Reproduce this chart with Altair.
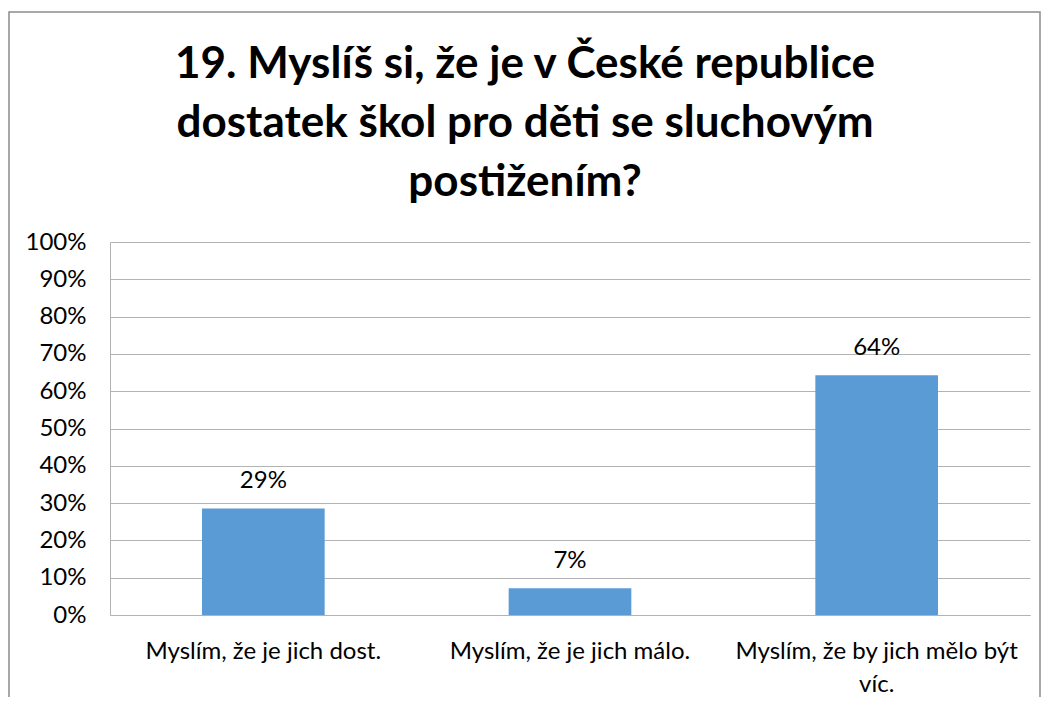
import altair as alt
import pandas as pd

categories = ["Myslím, že je jich dost.", "Myslím, že je jich málo.", "Myslím, že by jich mělo být víc."]
values = [0.2857, 0.0714, 0.6429]
y_ticks = [0.0, 0.1, 0.2, 0.3, 0.4, 0.5, 0.6, 0.7, 0.8, 0.9, 1.0]
title_lines = ["19. Myslíš si, že je v České republice", "dostatek škol pro děti se sluchovým", "postižením?"]

df = pd.DataFrame({"cat": categories, "val": values})

FONT = "Lato"

base = alt.Chart(df)

x_enc = alt.X("cat:N", sort=categories, title=None,
              scale=alt.Scale(paddingInner=0.6, paddingOuter=0.3),
              axis=alt.Axis(labelAngle=0, labelFontSize=24, labelFont=FONT, labelColor="#000000",
                            ticks=False, domain=True, domainColor="#b3b3b3", labelPadding=24,
                            labelLineHeight=33, labelLimit=400, labelOverlap=False,
                            labelExpr="datum.label == 'Myslím, že by jich mělo být víc.' ? ['Myslím, že by jich mělo být', 'víc.'] : datum.label"))

y_enc = alt.Y("val:Q", title=None,
              scale=alt.Scale(domain=[0, 1]),
              axis=alt.Axis(values=y_ticks, format=".0%", labelFontSize=24,
                            labelFont=FONT, labelColor="#000000", ticks=False, domain=True,
                            domainColor="#b3b3b3", gridColor="#b3b3b3", labelPadding=24,
                            labelOverlap=False))

bars = base.mark_bar(color="#5B9BD5").encode(x=x_enc, y=y_enc)

labels = base.mark_text(baseline="bottom", dy=-15, fontSize=24, font=FONT, color="#000000").encode(
    x=x_enc,
    y=y_enc,
    text=alt.Text("val:Q", format=".0%"),
)

frame = alt.Chart(pd.DataFrame({"a": [0]})).mark_rect(fill=None, stroke="#8c8c8c", strokeWidth=1.5).encode(
    x=alt.value(-101), x2=alt.value(930), y=alt.value(-230), y2=alt.value(500)
)

title = alt.Chart(pd.DataFrame({"a": [0]})).mark_text(
    text=title_lines, fontSize=44, font=FONT, fontWeight="bold", color="#000000",
    align="center", baseline="alphabetic", lineHeight=59,
).encode(x=alt.value(415), y=alt.value(-164))

chart = alt.layer(bars, labels, frame, title).properties(
    width=920, height=373,
    autosize=alt.AutoSizeParams(type="none"),
    padding={"left": 102, "top": 234, "right": 12, "bottom": 82},
).configure_view(stroke=None)

chart.save("out.html", embed_options={"renderer": "svg", "actions": False})
